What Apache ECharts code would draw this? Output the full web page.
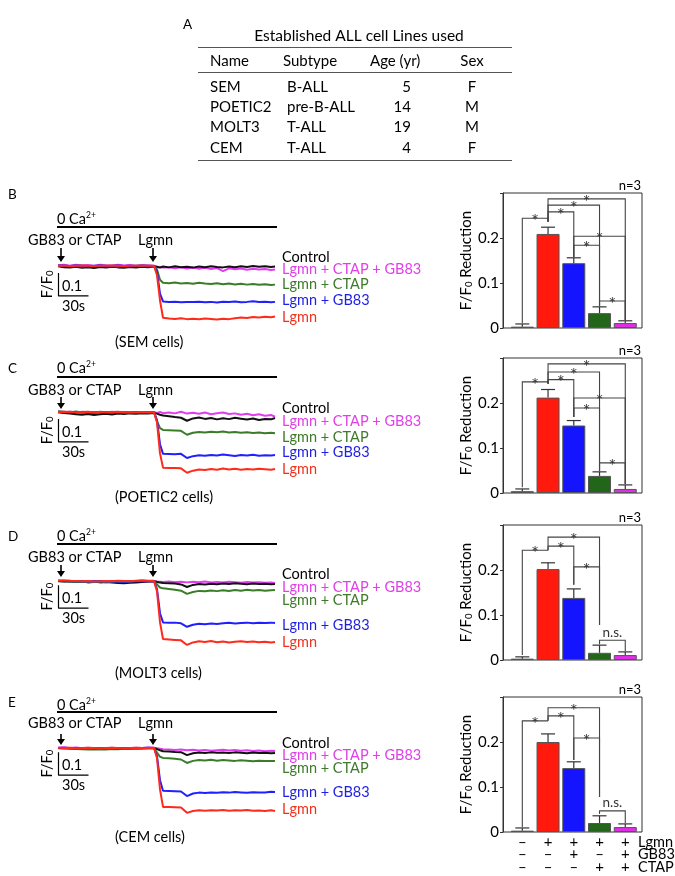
<!DOCTYPE html>
<html>
<head>
<meta charset="utf-8">
<script src="https://cdn.jsdelivr.net/npm/echarts@6/dist/echarts.min.js"></script>
<style>
  html, body { margin: 0; background: #fff; }
  #main { width: 675px; height: 876px; }
</style>
</head>
<body>
<div id="main"></div>
<script>
// table A
const tableHead = ['Name', 'Subtype', 'Age (yr)', 'Sex']
const cellNames = ['SEM', 'POETIC2', 'MOLT3', 'CEM']
const subtypes = ['B-ALL', 'pre-B-ALL', 'T-ALL', 'T-ALL']
const ages = [5, 14, 19, 4]
const sexes = ['F', 'M', 'M', 'F']

// calcium traces (F/F0), time in s, Lgmn added at ~97 s
const times = [0, 6, 12, 18, 24, 30, 36, 42, 48, 54, 60, 66, 72, 78, 84, 90, 96,
  99, 102, 105, 111, 117, 123, 129, 135, 141, 147, 153, 159, 165, 171, 177, 183, 189, 195, 201, 207, 213, 217]
const traceLabels = ['Control', 'Lgmn + CTAP + GB83', 'Lgmn + CTAP', 'Lgmn + GB83', 'Lgmn']

const semCtrl = [0.999,0.995,0.993,0.997,0.992,0.995,0.991,0.996,0.993,0.997,0.994,0.992,0.996,0.993,0.997,0.995,0.998,
  0.996,0.993,0.998,0.994,0.999,0.995,0.997,0.993,0.998,0.995,0.999,0.996,0.994,0.998,0.995,0.999,0.996,1.000,0.997,0.999,0.996,0.998]
const semMix = [1.003,1.005,1.001,1.006,1.002,1.004,1.000,1.005,1.003,1.001,1.006,1.002,1.004,1.001,1.003,1.002,1.001,
  0.998,0.996,0.993,0.995,0.990,0.994,0.989,0.993,0.988,0.992,0.987,0.991,0.978,0.990,0.986,0.989,0.984,0.988,0.985,0.987,0.983,0.985]
const semCtap = [1.000,1.001,0.999,1.000,0.998,1.000,0.999,1.001,0.999,1.000,0.998,1.000,0.999,1.001,1.000,0.999,1.000,
  0.985,0.940,0.927,0.925,0.928,0.924,0.926,0.923,0.927,0.924,0.922,0.925,0.921,0.924,0.920,0.923,0.919,0.922,0.918,0.921,0.917,0.919]
const semGb83 = [1.002,1.001,1.000,1.002,1.001,1.000,1.001,1.002,1.000,1.001,1.002,1.000,1.001,1.000,1.002,1.001,1.000,
  0.975,0.880,0.846,0.843,0.845,0.842,0.844,0.843,0.845,0.842,0.844,0.841,0.845,0.843,0.846,0.842,0.844,0.847,0.843,0.845,0.842,0.844]
const semLgmn = [1.001,1.001,1.000,1.001,1.002,1.001,1.000,1.001,1.001,1.002,1.001,1.000,1.001,1.001,1.002,1.001,1.001,
  0.960,0.850,0.775,0.772,0.770,0.773,0.769,0.771,0.768,0.772,0.770,0.767,0.771,0.769,0.773,0.776,0.774,0.778,0.776,0.779,0.777,0.780]

const pocCtrl = [0.999,0.996,0.993,0.990,0.988,0.991,0.987,0.990,0.992,0.989,0.993,0.991,0.994,0.992,0.995,0.993,0.996,
  0.993,0.988,0.985,0.982,0.978,0.975,0.962,0.972,0.976,0.970,0.974,0.968,0.973,0.969,0.975,0.971,0.967,0.972,0.965,0.970,0.968,0.974]
const pocMix = [1.000,0.998,1.002,0.997,1.001,0.999,0.996,1.000,0.998,1.001,0.997,0.999,0.996,1.000,0.998,0.997,0.999,
  0.996,1.000,0.995,0.998,0.994,1.001,0.993,0.997,0.992,0.998,0.990,0.995,0.998,0.991,0.994,0.988,0.992,0.986,0.990,0.984,0.987,0.980]
const pocCtap = [1.003,1.001,0.999,1.002,0.998,1.000,0.997,1.001,0.999,0.998,1.000,0.997,0.999,0.998,1.000,0.998,0.999,
  0.960,0.930,0.922,0.921,0.920,0.918,0.901,0.910,0.913,0.911,0.914,0.912,0.915,0.911,0.913,0.910,0.912,0.909,0.911,0.908,0.910,0.908]
const pocGb83 = [1.001,1.000,0.999,1.000,0.998,0.999,0.998,1.000,0.999,0.998,0.999,0.998,1.000,0.999,0.998,0.999,1.000,
  0.965,0.860,0.818,0.817,0.816,0.818,0.800,0.808,0.812,0.810,0.813,0.811,0.815,0.812,0.809,0.813,0.811,0.814,0.810,0.812,0.811,0.813]
const pocLgmn = [1.000,1.001,1.000,0.999,1.000,1.001,0.999,1.000,0.999,1.000,1.001,0.999,1.000,0.999,1.000,0.999,1.000,
  0.955,0.820,0.758,0.757,0.756,0.755,0.736,0.745,0.750,0.748,0.752,0.749,0.754,0.750,0.753,0.749,0.752,0.750,0.753,0.751,0.749,0.752]

const molCtrl = [1.000,0.998,0.999,0.996,0.998,0.995,0.997,0.994,0.996,0.993,0.991,0.990,0.992,0.994,0.996,0.998,0.999,
  0.996,0.993,0.991,0.990,0.989,0.985,0.974,0.983,0.987,0.985,0.988,0.986,0.989,0.987,0.990,0.988,0.986,0.989,0.987,0.988,0.986,0.987]
const molMix = [1.000,0.999,1.001,0.998,1.000,0.997,0.999,0.998,1.000,0.997,0.999,0.996,0.998,0.997,0.999,0.998,1.000,
  0.998,0.997,0.996,0.998,0.995,0.997,0.994,0.997,0.995,0.998,0.994,0.996,0.993,0.997,0.995,0.992,0.996,0.993,0.995,0.992,0.994,0.991]
const molCtap = [0.999,1.000,0.998,0.996,0.998,0.994,0.996,0.998,0.995,0.997,0.999,0.996,0.998,1.000,1.002,1.000,1.001,
  0.985,0.972,0.968,0.965,0.962,0.958,0.944,0.952,0.957,0.955,0.959,0.956,0.960,0.957,0.961,0.958,0.962,0.959,0.961,0.958,0.960,0.961]
const molGb83 = [1.001,1.000,0.999,1.000,0.999,0.998,0.999,1.000,0.998,0.999,0.998,0.997,0.998,0.999,1.000,0.999,1.000,
  0.965,0.860,0.820,0.818,0.819,0.816,0.801,0.810,0.814,0.812,0.815,0.813,0.816,0.818,0.815,0.817,0.819,0.816,0.818,0.817,0.819,0.817]
const molLgmn = [1.002,1.003,1.001,1.000,0.999,1.000,0.998,0.999,1.000,0.999,1.001,1.000,0.999,1.001,1.002,1.001,1.000,
  0.955,0.820,0.748,0.746,0.744,0.742,0.722,0.733,0.738,0.735,0.739,0.734,0.737,0.733,0.736,0.738,0.735,0.737,0.734,0.736,0.733,0.735]

const cemCtrl = [1.000,0.999,1.000,0.998,0.999,0.997,0.998,0.999,0.997,0.998,0.999,0.998,1.000,0.999,1.000,0.999,1.000,
  0.995,0.990,0.986,0.985,0.983,0.982,0.969,0.977,0.980,0.978,0.981,0.979,0.980,0.978,0.981,0.979,0.977,0.980,0.978,0.979,0.977,0.978]
const cemMix = [1.001,1.003,1.000,1.002,0.999,1.001,0.998,1.000,0.999,1.001,0.998,1.000,0.999,1.001,1.000,1.002,1.001,
  0.999,0.997,0.995,0.993,0.991,0.993,0.990,0.992,0.989,0.991,0.988,0.990,0.992,0.989,0.991,0.988,0.990,0.987,0.989,0.986,0.988,0.987]
const cemCtap = [0.999,0.998,0.997,0.996,0.995,0.994,0.993,0.995,0.994,0.996,0.995,0.997,0.996,0.998,0.997,0.999,1.000,
  0.980,0.962,0.957,0.955,0.953,0.950,0.935,0.944,0.948,0.946,0.949,0.945,0.948,0.946,0.944,0.947,0.945,0.942,0.945,0.943,0.944,0.943]
const cemGb83 = [1.000,1.001,0.999,1.000,0.999,1.000,0.998,0.999,1.000,0.999,0.998,0.999,1.000,0.999,1.000,1.001,1.000,
  0.965,0.860,0.814,0.813,0.812,0.811,0.791,0.802,0.806,0.804,0.807,0.805,0.808,0.806,0.809,0.807,0.805,0.808,0.806,0.807,0.810,0.809]
const cemLgmn = [1.001,1.000,1.001,0.999,1.000,1.001,1.000,0.999,1.000,1.001,1.000,0.999,1.000,1.001,1.000,1.000,1.001,
  0.955,0.820,0.744,0.743,0.742,0.741,0.718,0.726,0.729,0.727,0.729,0.728,0.730,0.727,0.729,0.728,0.730,0.727,0.728,0.726,0.729,0.726]

// bar summaries: Control, Lgmn, Lgmn+GB83, Lgmn+CTAP, Lgmn+CTAP+GB83
const semMean = [0.003, 0.209, 0.144, 0.033, 0.011]
const semErr = [0.006, 0.015, 0.012, 0.014, 0.005]
const pocMean = [0.004, 0.212, 0.150, 0.038, 0.009]
const pocErr = [0.005, 0.018, 0.011, 0.009, 0.009]
const molMean = [0.003, 0.202, 0.138, 0.016, 0.011]
const molErr = [0.004, 0.014, 0.020, 0.017, 0.007]
const cemMean = [0.003, 0.200, 0.142, 0.020, 0.011]
const cemErr = [0.006, 0.018, 0.014, 0.016, 0.007]

// brackets: [from, to, line level, left leg end, right leg end, mark]
const semBr = [[0,1,0.244,0.011,0.236,'*'],[1,2,0.258,0.236,0.158,'*'],[1,3,0.273,0.236,0.049,'*'],[1,4,0.287,0.236,0.018,'*'],
  [2,4,0.204,0.158,0.018,'*'],[2,3,0.184,0.158,0.049,'*'],[3,4,0.060,0.049,0.018,'*']]
const pocBr = [[0,1,0.247,0.013,0.243,'*'],[1,2,0.252,0.243,0.169,'*'],[1,3,0.269,0.243,0.049,'*'],[1,4,0.287,0.243,0.020,'*'],
  [2,4,0.211,0.169,0.020,'*'],[2,3,0.189,0.169,0.049,'*'],[3,4,0.067,0.049,0.020,'*']]
const molBr = [[0,1,0.244,0.011,0.244,'*'],[1,2,0.253,0.244,0.167,'*'],[1,3,0.273,0.244,0.078,'*'],[2,3,0.207,0.167,0.078,'*'],
  [3,4,0.044,0.035,0.020,'n.s.']]
const cemBr = [[0,1,0.247,0.011,0.247,'*'],[1,2,0.258,0.247,0.160,'*'],[1,3,0.276,0.247,0.078,'*'],[2,3,0.209,0.160,0.078,'*'],
  [3,4,0.047,0.040,0.020,'n.s.']]

const signNames = ['Lgmn', 'GB83', 'CTAP']
const lgmnSigns = ['–', '+', '+', '+', '+']
const gb83Signs = ['–', '–', '+', '–', '+']
const ctapSigns = ['–', '–', '–', '+', '+']

const FONT = 'Lato, "Open Sans", sans-serif'
const traceColors = ['#e23cee', '#111111', '#3a7d28', '#1f1fff', '#ff2a1a'] // mix, ctrl, ctap, gb83, lgmn
const labelColors = ['#000000', '#e040e8', '#3d7a2a', '#1e1ee6', '#f0321e']
const barColors = ['#111111', '#ff1a0d', '#1414ff', '#22661a', '#e02ee8']

const tracePanels = [
  { letter: 'B', letterY: 195, caY: 219, lineY: 227, drugY: 240, arrow: [248, 262], base: 266, labelY: [257, 269, 284, 300, 317], sb: [0.970, 0.870], cellY: 342,
    data: [semMix, semCtrl, semCtap, semGb83, semLgmn] },
  { letter: 'C', letterY: 369, caY: 368, lineY: 377, drugY: 390, arrow: [397, 409], base: 412, labelY: [408, 421, 437, 452, 469], sb: [0.970, 0.870], cellY: 497,
    data: [pocMix, pocCtrl, pocCtap, pocGb83, pocLgmn] },
  { letter: 'D', letterY: 537, caY: 536, lineY: 544, drugY: 557, arrow: [565, 577], base: 581, labelY: [574, 587, 600, 625, 642], sb: [0.982, 0.882], cellY: 673,
    data: [molMix, molCtrl, molCtap, molGb83, molLgmn] },
  { letter: 'E', letterY: 703, caY: 705, lineY: 712, drugY: 723, arrow: [734, 745], base: 748, labelY: [743, 755, 768, 792, 809], sb: [0.982, 0.882], cellY: 837,
    data: [cemMix, cemCtrl, cemCtap, cemGb83, cemLgmn] }
]
const barPanels = [
  { top: 193, mean: semMean, err: semErr, br: semBr },
  { top: 358, mean: pocMean, err: pocErr, br: pocBr },
  { top: 525, mean: molMean, err: molErr, br: molBr },
  { top: 697, mean: cemMean, err: cemErr, br: cemBr }
]
const PX = 230 // px per F/F0 unit in trace panels

function T(x, y, text, o) {
  o = o || {}
  return {
    type: 'text', x: x, y: y, rotation: o.rot || 0, silent: true,
    style: {
      text: text, fill: o.color || '#000', fontSize: o.size || 14, fontFamily: FONT,
      fontWeight: o.weight || 'normal', lineHeight: o.lh || 16,
      align: o.align || 'left', verticalAlign: 'middle',
      textAlign: o.align || 'left', textVerticalAlign: 'middle',
      rich: o.rich
    }
  }
}
function L(x1, y1, x2, y2, w, color) {
  return { type: 'line', silent: true, shape: { x1: x1, y1: y1, x2: x2, y2: y2 }, style: { stroke: color || '#000', lineWidth: w || 1 } }
}
function arrowDown(x, y1, y2) {
  return [
    L(x, y1, x, y2 - 4, 1.6),
    { type: 'polygon', silent: true, shape: { points: [[x - 4, y2 - 6], [x + 4, y2 - 6], [x, y2]] }, style: { fill: '#000' } }
  ]
}
const supRich = { sup: { fontSize: 8.5, lineHeight: 8, verticalAlign: 'top', fontFamily: FONT, fill: '#000', color: '#000' } }
const subRich = { sub: { fontSize: 9.5, lineHeight: 6, verticalAlign: 'bottom', fontFamily: FONT, fill: '#000', color: '#000' } }

const graphic = []
// table A
graphic.push(T(183, 25, 'A', { size: 13.5 }))
graphic.push(T(359, 36, 'Established ALL cell Lines used', { size: 15.5, align: 'center' }))
graphic.push(L(198, 47.5, 512, 47.5, 1.2, '#555'), L(198, 72.5, 512, 72.5, 1.2, '#555'), L(198, 160.5, 512, 160.5, 1.2, '#555'))
const colX = [210, 283, 370, 472]
tableHead.forEach((h, i) => graphic.push(T(colX[i], 61, h, { size: 15, align: i === 3 ? 'center' : 'left' })))
cellNames.forEach((n, r) => {
  const y = 87 + r * 20.3
  graphic.push(T(210, y, n, { size: 15 }))
  graphic.push(T(287, y, subtypes[r], { size: 15 }))
  graphic.push(T(411, y, String(ages[r]), { size: 15, align: 'right' }))
  graphic.push(T(472, y, sexes[r], { size: 15, align: 'center' }))
})

const grid = [], xAxis = [], yAxis = [], series = []

tracePanels.forEach((p, k) => {
  const gi = grid.length
  grid.push({ left: 58, top: p.base - 0.05 * PX, width: 217, height: 0.35 * PX })
  xAxis.push({ gridIndex: gi, type: 'value', min: 0, max: 217, show: false })
  yAxis.push({ gridIndex: gi, type: 'value', min: 0.70, max: 1.05, show: false })
  p.data.forEach((arr, j) => {
    series.push({
      type: 'line', xAxisIndex: gi, yAxisIndex: gi, symbol: 'none', silent: true,
      lineStyle: { width: 2, color: traceColors[j] },
      data: times.map((t, i) => [t, arr[i]])
    })
  })
  // scale bar 0.1 / 30 s
  series.push({
    type: 'line', xAxisIndex: gi, yAxisIndex: gi, symbol: 'none', silent: true,
    lineStyle: { width: 1.2, color: '#000' },
    data: [[0.5, p.sb[0]], [0.5, p.sb[1]], [30.5, p.sb[1]]]
  })
  const sbBottom = p.base + (1 - p.sb[1]) * PX
  const sbMid = p.base + (1 - (p.sb[0] + p.sb[1]) / 2) * PX
  graphic.push(T(8, p.letterY, p.letter, { size: 13.5 }))
  graphic.push(T(57, p.caY, '0 Ca{sup|2+}', { size: 14.5, rich: supRich }))
  graphic.push(L(57, p.lineY, 277, p.lineY, 2.2))
  graphic.push(T(28, p.drugY, 'GB83 or CTAP', { size: 14.5 }))
  graphic.push(T(138, p.drugY, 'Lgmn', { size: 14.5 }))
  graphic.push(...arrowDown(61, p.arrow[0], p.arrow[1]), ...arrowDown(153, p.arrow[0], p.arrow[1]))
  traceLabels.forEach((lab, j) => graphic.push(T(282, p.labelY[j], lab, { size: 14.5, color: labelColors[j] })))
  graphic.push(T(47, sbMid, 'F/F{sub|0}', { size: 14.5, rot: Math.PI / 2, align: 'center', rich: subRich }))
  graphic.push(T(62, sbBottom - 10, '0.1', { size: 14.5 }))
  graphic.push(T(62, sbBottom + 10, '30s', { size: 14.5 }))
  graphic.push(T(115, p.cellY, '(' + cellNames[k] + ' cells)', { size: 14.5 }))
})

function renderErr(params, api) {
  const i = api.value(0), m = api.value(1), e = api.value(2)
  const a = api.coord([i, m]), b = api.coord([i, m + e])
  const st = { stroke: '#333', lineWidth: 1.2 }
  return {
    type: 'group', children: [
      { type: 'line', shape: { x1: a[0], y1: a[1], x2: b[0], y2: b[1] }, style: st },
      { type: 'line', shape: { x1: b[0] - 7, y1: b[1], x2: b[0] + 7, y2: b[1] }, style: st }
    ]
  }
}
function bracketRenderer(list) {
  return function (params, api) {
    const b = list[params.dataIndex]
    const a = api.coord([b[0], b[3]]), c = api.coord([b[0], b[2]])
    const d = api.coord([b[1], b[2]]), f = api.coord([b[1], b[4]])
    const star = b[5] === '*'
    return {
      type: 'group', children: [
        { type: 'polyline', shape: { points: [a, c, d, f] }, style: { stroke: '#444', lineWidth: 1.1, fill: null } },
        { type: 'text', x: (c[0] + d[0]) / 2, y: star ? c[1] + 3 : c[1] - 1,
          style: { text: b[5], fill: '#333', fontSize: star ? 18 : 13.5, fontFamily: FONT,
            align: 'center', verticalAlign: star ? 'middle' : 'bottom', textAlign: 'center', textVerticalAlign: star ? 'middle' : 'bottom' } }
      ]
    }
  }
}

barPanels.forEach((p, k) => {
  const gi = grid.length
  grid.push({ left: 503, top: p.top, width: 139, height: 135, show: true, borderColor: '#333', borderWidth: 1 })
  xAxis.push({ gridIndex: gi, type: 'value', min: -0.75, max: 4.65,
    axisLine: { show: false }, axisTick: { show: false }, axisLabel: { show: false }, splitLine: { show: false } })
  yAxis.push({
    gridIndex: gi, type: 'value', min: 0, max: 0.3, interval: 0.1,
    axisLine: { show: true, onZero: false, lineStyle: { color: '#333', width: 1 } },
    axisTick: { show: true, length: 3, lineStyle: { color: '#333' } },
    splitLine: { show: false },
    axisLabel: { color: '#000', fontSize: 15, fontFamily: FONT, margin: 4,
      formatter: v => (v === 0 ? '0' : v > 0.25 ? '' : v.toFixed(1)) },
    name: 'F/F{sub|0} Reduction', nameLocation: 'middle', nameGap: 27,
    nameTextStyle: { color: '#000', fontSize: 15, fontFamily: FONT, lineHeight: 16,
      rich: { sub: { fontSize: 9.5, lineHeight: 6, verticalAlign: 'bottom', fontFamily: FONT, color: '#000' } } }
  })
  series.push({
    type: 'bar', xAxisIndex: gi, yAxisIndex: gi, barWidth: 23, silent: true,
    itemStyle: { borderColor: '#555', borderWidth: 1 },
    data: p.mean.map((v, i) => ({ value: [i, v], itemStyle: { color: barColors[i] } }))
  })
  series.push({
    type: 'custom', xAxisIndex: gi, yAxisIndex: gi, silent: true, renderItem: renderErr,
    data: p.mean.map((v, i) => [i, v, p.err[i]]), z: 3
  })
  series.push({
    type: 'custom', xAxisIndex: gi, yAxisIndex: gi, silent: true, renderItem: bracketRenderer(p.br),
    data: p.br.map(b => [b[0], b[1], b[2], b[3], b[4]]), z: 4
  })
  graphic.push(T(641, p.top - 7, 'n=3', { size: 13, align: 'right' }))
})

// +/- treatment rows under the last bar panel
const signRows = [lgmnSigns, gb83Signs, ctapSigns]
const rowOffsets = [10, 22.5, 35]
const lastGrid = grid.length - 1
series.push({
  type: 'custom', xAxisIndex: lastGrid, yAxisIndex: lastGrid, silent: true, clip: false,
  data: lgmnSigns.map((s, i) => [i, 0]),
  renderItem: function (params, api) {
    const i = api.value(0)
    const p = api.coord([i, 0])
    return {
      type: 'group', children: signRows.map((row, r) => ({
        type: 'text', x: p[0], y: p[1] + rowOffsets[r],
        style: { text: row[i], fill: '#000', fontSize: 15, fontFamily: FONT, align: 'center', verticalAlign: 'middle', textAlign: 'center', textVerticalAlign: 'middle' }
      }))
    }
  }
})
signNames.forEach((n, r) => graphic.push(T(638, barPanels[3].top + 135 + rowOffsets[r], n, { size: 14.5 })))

const chart = echarts.init(document.getElementById('main'))
chart.setOption({
  animation: false,
  backgroundColor: '#fff',
  grid: grid,
  xAxis: xAxis,
  yAxis: yAxis,
  series: series,
  graphic: graphic
})
</script>
</body>
</html>
